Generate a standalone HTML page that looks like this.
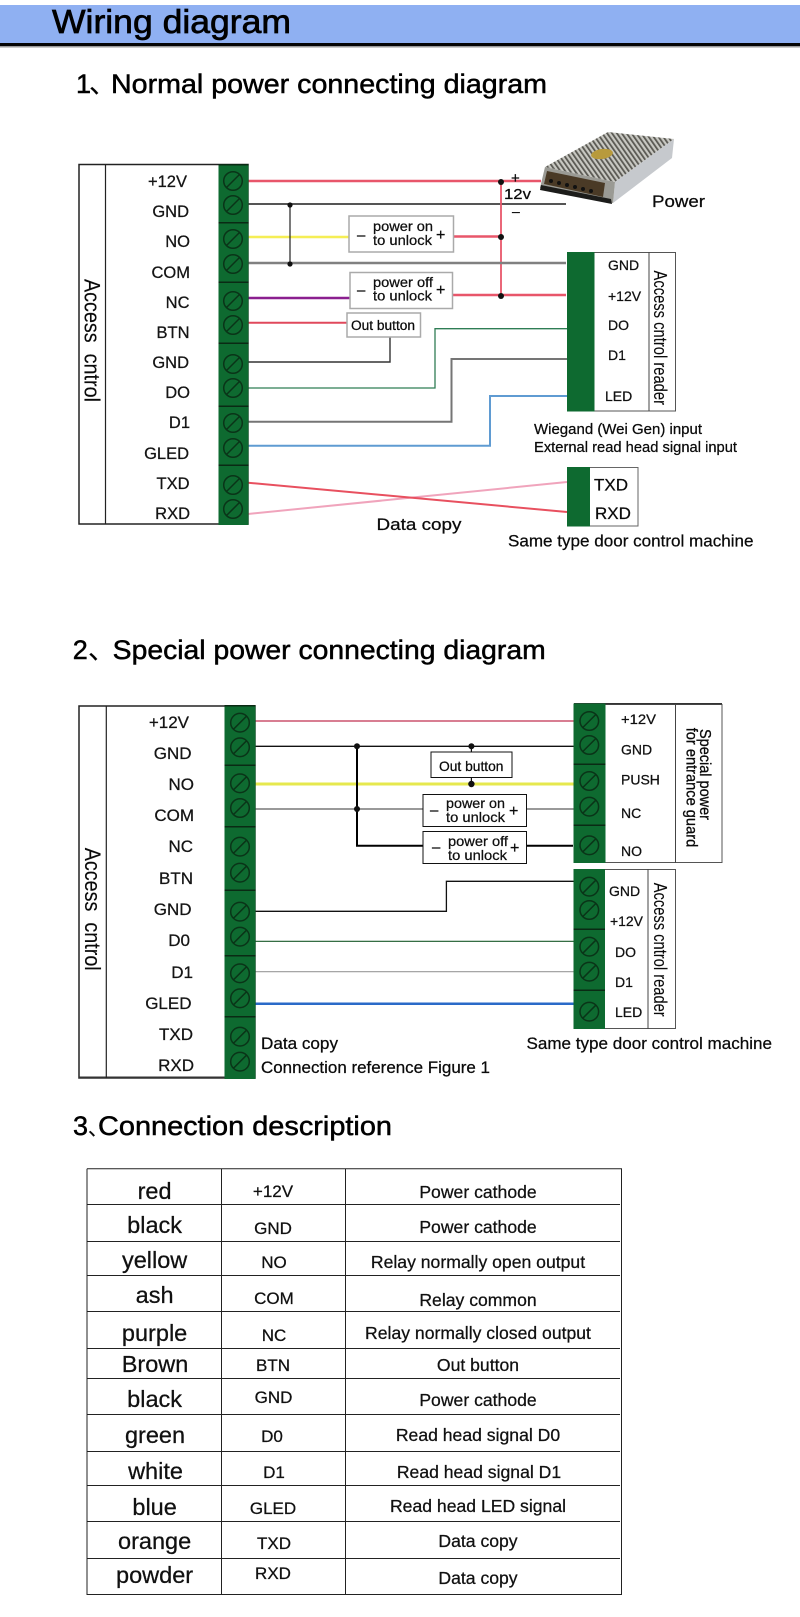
<!DOCTYPE html>
<html><head><meta charset="utf-8"><style>
html,body{margin:0;padding:0;background:#fff}
svg{display:block}
text{font-family:"Liberation Sans","Noto Sans CJK SC",sans-serif;fill:#0a0a0a;stroke:#0a0a0a;stroke-width:.25px}
.l{font-size:16.5px;text-anchor:end;fill:#151515}
.m{font-size:17px;text-anchor:end;fill:#151515}
.r{font-size:14px;fill:#111}
.b{font-size:14px;fill:#111}
.c1{font-size:23.5px;text-anchor:middle;fill:#111}
.c2{font-size:17px;text-anchor:middle;fill:#111}
.c3{font-size:17.6px;text-anchor:middle;fill:#111}
.h{font-size:27px;fill:#000;stroke:#000;stroke-width:.5px}
</style></head><body>
<svg xmlns="http://www.w3.org/2000/svg" width="800" height="1617" viewBox="0 0 800 1617">
<defs>
<g id="s"><circle r="9.3" fill="#0e6a30" stroke="#0a3418" stroke-width="1.5"/><line x1="-6.5" y1="6.5" x2="6.5" y2="-6.5" stroke="#0a3418" stroke-width="1.5"/></g>
<pattern id="holes" width="4" height="4" patternUnits="userSpaceOnUse" patternTransform="rotate(-35)">
<rect width="4" height="4" fill="#c8c8c2"/><rect x="0" y="0" width="1.800" height="4" fill="#5a5953"/></pattern>
</defs>
<rect width="800" height="1617" fill="#fff"/>
<!-- header -->
<rect x="0" y="5" width="800" height="38" fill="#8fb0f2"/>
<rect x="0" y="43" width="800" height="3" fill="#050505"/>
<rect x="0" y="46" width="800" height="1.5" fill="#9a9a9a"/>
<text x="52" y="33" font-size="33" textLength="239" lengthAdjust="spacingAndGlyphs" style="stroke-width:.7px;fill:#000;stroke:#000">Wiring diagram</text>
<text class="h" x="76" y="93">1</text><text class="h" x="89" y="93" style="stroke-width:.2px">、</text>
<text class="h" x="111" y="93" textLength="436" lengthAdjust="spacingAndGlyphs">Normal power connecting diagram</text>

<!-- diagram 1 wires -->
<g fill="none">
<path d="M248 181H541" stroke="#e8566a" stroke-width="2.4"/>
<path d="M248 204H566" stroke="#555" stroke-width="2"/>
<path d="M248 237H349" stroke="#f5ee55" stroke-width="2.4"/>
<path d="M453 236.500H501" stroke="#e8566a" stroke-width="2.4"/>
<path d="M501 181V296" stroke="#e8566a" stroke-width="1.8"/>
<path d="M290 204V264" stroke="#222" stroke-width="1.2"/>
<path d="M248 263H566" stroke="#808080" stroke-width="2.4"/>
<path d="M248 298H350" stroke="#8b1f8f" stroke-width="2.6"/>
<path d="M452 295H566" stroke="#e8566a" stroke-width="2.4"/>
<path d="M248 322.700H347" stroke="#e0485c" stroke-width="2"/>
<path d="M390 337V362H248" stroke="#333" stroke-width="1.4"/>
<path d="M248 388H435V328.700H567" stroke="#2f7d55" stroke-width="1.3"/>
<path d="M248 421.700H451.500V359H567" stroke="#757575" stroke-width="2"/>
<path d="M248 445.700H490V396H567" stroke="#5f9bd2" stroke-width="2"/>
<path d="M248 514L567 482" stroke="#f0a4bc" stroke-width="2"/>
<path d="M248 482.700L567 512" stroke="#e8505f" stroke-width="2"/>
</g>
<g fill="#111"><ellipse cx="501" cy="182" rx="3" ry="3"/><circle cx="501" cy="237" r="3"/><circle cx="501" cy="296" r="3"/><circle cx="290" cy="205" r="2.600"/><circle cx="290" cy="264" r="2.600"/></g>

<!-- diagram 1 left block -->
<rect x="79" y="164.500" width="169" height="359.500" fill="none" stroke="#222" stroke-width="1.5"/>
<line x1="105.500" y1="164" x2="105.500" y2="524" stroke="#222" stroke-width="1.200"/>
<rect x="218.500" y="164" width="30" height="361" fill="#0e6a30"/>
<rect x="218.500" y="164" width="30" height="1.500" fill="#0a2a14"/>
<g fill="#0a2a14"><rect x="218.500" y="222" width="30" height="1.500"/><rect x="218.500" y="281.500" width="30" height="1.500"/><rect x="218.500" y="342.500" width="30" height="1.500"/><rect x="218.500" y="405.500" width="30" height="1.500"/><rect x="218.500" y="464.500" width="30" height="1.500"/></g>
<use href="#s" x="233" y="181"/><use href="#s" x="233" y="205"/><use href="#s" x="233" y="239"/><use href="#s" x="233" y="264"/><use href="#s" x="233" y="301"/><use href="#s" x="233" y="325"/><use href="#s" x="233" y="364"/><use href="#s" x="233" y="388"/><use href="#s" x="233" y="423"/><use href="#s" x="233" y="448"/><use href="#s" x="233" y="485"/><use href="#s" x="233" y="509"/>
<text class="l" x="187" y="187">+12V</text>
<text class="l" x="189" y="217">GND</text>
<text class="l" x="190" y="247">NO</text>
<text class="l" x="190" y="278">COM</text>
<text class="l" x="189.500" y="308">NC</text>
<text class="l" x="189.500" y="338">BTN</text>
<text class="l" x="189" y="368">GND</text>
<text class="l" x="190" y="398">DO</text>
<text class="l" x="190" y="428">D1</text>
<text class="l" x="189" y="459">GLED</text>
<text class="l" x="189.500" y="489">TXD</text>
<text class="l" x="190" y="519">RXD</text>
<text transform="translate(84.500,279) rotate(90)" font-size="22" textLength="123" lengthAdjust="spacingAndGlyphs" style="stroke-width:.1px">Access&#160;&#160;cntrol</text>

<!-- relay boxes -->
<rect x="349" y="216" width="104.500" height="36" fill="#fff" stroke="#aaa" stroke-width="1.500"/>
<text class="b" x="373" y="231" textLength="60" lengthAdjust="spacingAndGlyphs">power on</text>
<text class="b" x="373" y="245" textLength="59" lengthAdjust="spacingAndGlyphs">to unlock</text>
<text x="357" y="240" font-size="15">–</text><text x="436" y="240" font-size="16">+</text>
<rect x="350" y="272.500" width="102.500" height="36" fill="#fff" stroke="#aaa" stroke-width="1.500"/>
<text class="b" x="373" y="287" textLength="60" lengthAdjust="spacingAndGlyphs">power off</text>
<text class="b" x="373" y="300.500" textLength="59" lengthAdjust="spacingAndGlyphs">to unlock</text>
<text x="357" y="295" font-size="15">–</text><text x="436" y="295" font-size="16">+</text>
<rect x="347" y="313" width="73.500" height="24" fill="#fff" stroke="#aaa" stroke-width="1.500"/>
<text x="351" y="330" font-size="13.500" textLength="64" lengthAdjust="spacingAndGlyphs">Out button</text>

<!-- power supply -->
<polygon points="608,132 674,139 615,182 545,167" fill="url(#holes)"/>
<ellipse cx="602" cy="154" rx="11" ry="5" fill="#b89a3c" transform="rotate(-8 602 154)"/>
<polygon points="674,139 672,158 613,203 615,182" fill="#c6c9cd"/>
<polygon points="545,167 615,182 613,203 540,188" fill="#9a9a94"/>
<polygon points="547,171 605,183 603,197 544,184" fill="#4a3a26"/>
<polygon points="541,185 611,199 612,204 540,190" fill="#1c1c1a"/>
<g fill="#111"><circle cx="551" cy="181" r="2"/><circle cx="559" cy="183" r="2"/><circle cx="567" cy="185" r="2"/><circle cx="575" cy="187" r="2"/><circle cx="583" cy="189" r="2"/><circle cx="591" cy="191" r="2"/></g>
<text x="504" y="199" font-size="15" textLength="27" lengthAdjust="spacingAndGlyphs">12v</text>
<text x="511" y="183" font-size="15">+</text>
<text x="512" y="216" font-size="14">–</text>
<text x="652" y="207" font-size="17" textLength="53" lengthAdjust="spacingAndGlyphs">Power</text>

<!-- reader 1 -->
<rect x="567.500" y="252.500" width="108" height="158.500" fill="#fff" stroke="#555" stroke-width="1"/>
<rect x="567" y="252" width="27.500" height="159.500" fill="#0e6a30"/>
<line x1="649" y1="252" x2="649" y2="411" stroke="#444" stroke-width="1"/>
<text class="r" x="608" y="270">GND</text><text class="r" x="608" y="301">+12V</text><text class="r" x="608" y="330">DO</text><text class="r" x="608" y="360">D1</text><text class="r" x="605" y="401">LED</text>
<text transform="translate(654,270.500) rotate(90)" font-size="18" textLength="134.500" lengthAdjust="spacingAndGlyphs" style="stroke-width:.1px">Access cntrol reader</text>
<text x="534" y="434" font-size="15" textLength="168" lengthAdjust="spacingAndGlyphs">Wiegand (Wei Gen) input</text>
<text x="534" y="452" font-size="15" textLength="203" lengthAdjust="spacingAndGlyphs">External read head signal input</text>
<rect x="567.500" y="467.500" width="70.500" height="58.500" fill="#fff" stroke="#666" stroke-width="1"/>
<rect x="567" y="467" width="23" height="59.500" fill="#0e6a30"/>
<text x="594" y="490.500" font-size="17">TXD</text>
<text x="595" y="519" font-size="17">RXD</text>
<text x="376.500" y="530" font-size="17" textLength="85" lengthAdjust="spacingAndGlyphs">Data copy</text>
<text x="508" y="546.500" font-size="17" textLength="245.500" lengthAdjust="spacingAndGlyphs">Same type door control machine</text>

<!-- section 2 -->
<text class="h" x="72.700" y="659">2</text><text class="h" x="88" y="659" style="stroke-width:.2px">、</text>
<text class="h" x="112.700" y="659" textLength="433" lengthAdjust="spacingAndGlyphs">Special power connecting diagram</text>
<g fill="none">
<path d="M255 721H574" stroke="#c03050" stroke-width="1.200"/>
<path d="M255 746.300H574" stroke="#111" stroke-width="1.300"/>
<path d="M255 784H574" stroke="#e6e84e" stroke-width="3"/>
<path d="M255 809H423M526 809H574" stroke="#999" stroke-width="2"/>
<path d="M357 746V845.700H423M526 845.700H573" stroke="#000" stroke-width="2"/>
<path d="M471.400 746V752M471.400 777V784" stroke="#111" stroke-width="1.200"/>
<path d="M255 911.300H446.400V881.300H574" stroke="#111" stroke-width="1.300"/>
<path d="M255 941.300H574" stroke="#1a5a2a" stroke-width="1.200"/>
<path d="M255 971.700H574" stroke="#999" stroke-width="1.200"/>
<path d="M255 1003.700H574" stroke="#2a6ac8" stroke-width="2.500"/>
</g>
<g fill="#111"><circle cx="357" cy="746.300" r="3"/><circle cx="357" cy="809" r="3"/><circle cx="471.400" cy="746.300" r="3"/><circle cx="471.400" cy="784" r="3.200"/></g>
<rect x="79" y="706" width="176" height="372" fill="none" stroke="#222" stroke-width="1.500"/>
<rect x="79" y="1076.500" width="176" height="2" fill="#333"/>
<line x1="106.300" y1="706" x2="106.300" y2="1078" stroke="#222" stroke-width="1.200"/>
<rect x="224.500" y="705" width="31" height="374" fill="#0e6a30"/>
<g fill="#0a2a14"><rect x="224.500" y="705" width="31" height="1.500"/><rect x="224.500" y="764.500" width="31" height="1.500"/><rect x="224.500" y="826" width="31" height="1.500"/><rect x="224.500" y="889.500" width="31" height="1.500"/><rect x="224.500" y="955" width="31" height="1.500"/><rect x="224.500" y="1016" width="31" height="1.500"/></g>
<use href="#s" x="240" y="722.700"/><use href="#s" x="240" y="747.300"/><use href="#s" x="240" y="783.300"/><use href="#s" x="240" y="808"/><use href="#s" x="240" y="846.700"/><use href="#s" x="240" y="872.700"/><use href="#s" x="240" y="911.700"/><use href="#s" x="240" y="936.700"/><use href="#s" x="240" y="973.300"/><use href="#s" x="240" y="998.300"/><use href="#s" x="240" y="1036.700"/><use href="#s" x="240" y="1061.700"/>
<text class="m" x="189" y="728">+12V</text>
<text class="m" x="191.500" y="759">GND</text>
<text class="m" x="194" y="790">NO</text>
<text class="m" x="194" y="821">COM</text>
<text class="m" x="193" y="852">NC</text>
<text class="m" x="193" y="884">BTN</text>
<text class="m" x="191.500" y="915">GND</text>
<text class="m" x="190" y="946">D0</text>
<text class="m" x="193" y="978">D1</text>
<text class="m" x="191.500" y="1009">GLED</text>
<text class="m" x="193" y="1040">TXD</text>
<text class="m" x="194" y="1071">RXD</text>
<text transform="translate(85,847.700) rotate(90)" font-size="22" textLength="123" lengthAdjust="spacingAndGlyphs" style="stroke-width:.1px">Access&#160;&#160;cntrol</text>

<rect x="431" y="752" width="81" height="25.500" fill="#fff" stroke="#111" stroke-width="1"/>
<text x="439" y="771" font-size="14" textLength="64.500" lengthAdjust="spacingAndGlyphs">Out button</text>
<rect x="423" y="794.500" width="103.500" height="32" fill="#fff" stroke="#111" stroke-width="1"/>
<text class="b" x="446" y="808" textLength="59" lengthAdjust="spacingAndGlyphs">power on</text>
<text class="b" x="446" y="822" textLength="59" lengthAdjust="spacingAndGlyphs">to unlock</text>
<text x="430" y="815" font-size="15">–</text><text x="509" y="816" font-size="16">+</text>
<rect x="423" y="831.500" width="103.500" height="32" fill="#fff" stroke="#111" stroke-width="1"/>
<text class="b" x="448" y="846" textLength="60" lengthAdjust="spacingAndGlyphs">power off</text>
<text class="b" x="448" y="860" textLength="59" lengthAdjust="spacingAndGlyphs">to unlock</text>
<text x="432" y="852" font-size="15">–</text><text x="510" y="853" font-size="16">+</text>

<rect x="574" y="704.500" width="148" height="158" fill="#fff" stroke="#555" stroke-width="1"/>
<rect x="574" y="703" width="148" height="1.500" fill="#333"/>
<rect x="573.500" y="703.500" width="32" height="159.500" fill="#0e6a30"/>
<line x1="675.500" y1="704" x2="675.500" y2="863" stroke="#444" stroke-width="1"/>
<g fill="#0a2a14"><rect x="573.500" y="763.500" width="32" height="1.500"/><rect x="573.500" y="824.500" width="32" height="1.500"/></g>
<use href="#s" x="589.300" y="721"/><use href="#s" x="589.300" y="745"/><use href="#s" x="589.300" y="781"/><use href="#s" x="589.300" y="806.700"/><use href="#s" x="589.300" y="845.300"/>
<text class="r" x="621" y="724" textLength="35" lengthAdjust="spacingAndGlyphs">+12V</text>
<text class="r" x="621" y="754.500">GND</text>
<text class="r" x="621" y="784.500">PUSH</text>
<text class="r" x="621" y="818">NC</text>
<text class="r" x="621" y="856">NO</text>
<text transform="translate(700,729) rotate(90)" font-size="16" textLength="91" lengthAdjust="spacingAndGlyphs" style="stroke-width:.3px">Special power</text>
<text transform="translate(686.500,727.700) rotate(90)" font-size="16" textLength="119.500" lengthAdjust="spacingAndGlyphs" style="stroke-width:.3px">for entrance guard</text>

<rect x="574" y="869.500" width="101.500" height="159" fill="#fff" stroke="#555" stroke-width="1"/>
<rect x="573.500" y="869" width="31.500" height="160" fill="#0e6a30"/>
<line x1="648" y1="869" x2="648" y2="1029" stroke="#444" stroke-width="1"/>
<g fill="#0a2a14"><rect x="573.500" y="928.500" width="31.500" height="1.500"/><rect x="573.500" y="989.500" width="31.500" height="1.500"/></g>
<use href="#s" x="589.300" y="886.700"/><use href="#s" x="589.300" y="910"/><use href="#s" x="589.300" y="946.700"/><use href="#s" x="589.300" y="971.700"/><use href="#s" x="589.300" y="1011.700"/>
<text class="r" x="609" y="896">GND</text>
<text class="r" x="610" y="926" textLength="33" lengthAdjust="spacingAndGlyphs">+12V</text>
<text class="r" x="615" y="957">DO</text>
<text class="r" x="615" y="987">D1</text>
<text class="r" x="615" y="1017">LED</text>
<text transform="translate(654,882.700) rotate(90)" font-size="18" textLength="134" lengthAdjust="spacingAndGlyphs" style="stroke-width:.1px">Access cntrol reader</text>
<text x="261" y="1049" font-size="16.500" textLength="77" lengthAdjust="spacingAndGlyphs">Data copy</text>
<text x="261" y="1073" font-size="16.500" textLength="229" lengthAdjust="spacingAndGlyphs">Connection reference Figure 1</text>
<text x="526.500" y="1049" font-size="17" textLength="245.500" lengthAdjust="spacingAndGlyphs">Same type door control machine</text>

<!-- section 3 -->
<text class="h" x="73" y="1135">3</text><text x="88" y="1135" font-size="20" style="stroke-width:.2px">、</text>
<text class="h" x="98" y="1135" textLength="294" lengthAdjust="spacingAndGlyphs">Connection description</text>
<g stroke="#222" stroke-width="1" fill="none">
<path d="M87 1168.700H621.500V1594.500H87V1168.700"/>
<path d="M221.500 1168.700V1594.500M345.500 1168.700V1594.500"/>
<path d="M87 1204.500H620M87 1241.500H620M87 1275.500H620M87 1311.500H620M87 1348.500H620M87 1378.500H620M87 1414.500H620M87 1451.500H620M87 1485.500H620M87 1521.500H620M87 1558.500H620"/>
</g>
<text class="c1" x="154.600" y="1199">red</text>
<text class="c1" x="154.600" y="1233">black</text>
<text class="c1" x="154.600" y="1268">yellow</text>
<text class="c1" x="154.600" y="1303">ash</text>
<text class="c1" x="154.600" y="1341">purple</text>
<text class="c1" x="155" y="1372">Brown</text>
<text class="c1" x="154.600" y="1407">black</text>
<text class="c1" x="155" y="1443">green</text>
<text class="c1" x="155.500" y="1479">white</text>
<text class="c1" x="154.600" y="1515">blue</text>
<text class="c1" x="154.600" y="1549">orange</text>
<text class="c1" x="154.600" y="1583">powder</text>
<text class="c2" x="273" y="1197">+12V</text>
<text class="c2" x="273" y="1234">GND</text>
<text class="c2" x="274" y="1268">NO</text>
<text class="c2" x="274" y="1304">COM</text>
<text class="c2" x="274" y="1341">NC</text>
<text class="c2" x="273" y="1371">BTN</text>
<text class="c2" x="273.500" y="1403">GND</text>
<text class="c2" x="272" y="1442">D0</text>
<text class="c2" x="274" y="1478">D1</text>
<text class="c2" x="273" y="1514">GLED</text>
<text class="c2" x="274" y="1549">TXD</text>
<text class="c2" x="273" y="1579">RXD</text>
<text class="c3" x="478" y="1198">Power cathode</text>
<text class="c3" x="478" y="1233">Power cathode</text>
<text class="c3" x="478" y="1268">Relay normally open output</text>
<text class="c3" x="478" y="1306">Relay common</text>
<text class="c3" x="478" y="1339">Relay normally closed output</text>
<text class="c3" x="478" y="1371">Out button</text>
<text class="c3" x="478" y="1406">Power cathode</text>
<text class="c3" x="478" y="1441">Read head signal D0</text>
<text class="c3" x="479" y="1478">Read head signal D1</text>
<text class="c3" x="478" y="1512">Read head LED signal</text>
<text class="c3" x="478" y="1547">Data copy</text>
<text class="c3" x="478" y="1584">Data copy</text>
</svg>
</body></html>
